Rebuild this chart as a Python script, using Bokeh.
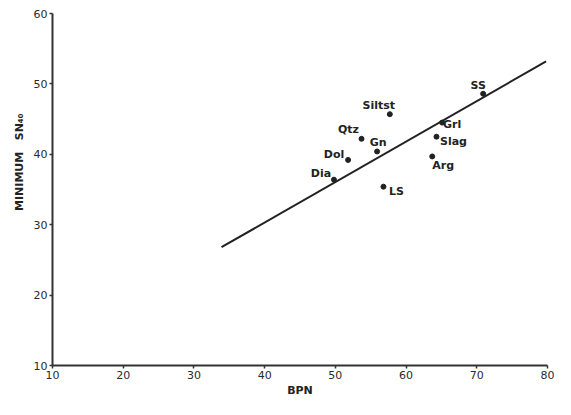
from bokeh.plotting import figure
from bokeh.models import ColumnDataSource, FixedTicker, Range1d, Title
from bokeh.core.properties import value
from bokeh.embed import file_html
from bokeh.resources import INLINE

# ---- data ----
rock_names = ["SS", "Siltst", "Qtz", "Gn", "Dol", "Dia", "LS", "Grl", "Slag", "Arg"]
bpn = [70.9, 57.7, 53.7, 55.9, 51.8, 49.8, 56.8, 65.1, 64.3, 63.7]
min_sn40 = [48.6, 45.7, 42.2, 40.4, 39.2, 36.4, 35.4, 44.5, 42.5, 39.7]

fit_bpn = [33.9, 79.8]
fit_sn40 = [26.8, 53.2]

x_ticks = [10, 20, 30, 40, 50, 60, 70, 80]
y_ticks = [10, 20, 30, 40, 50, 60]

# label placement (screen-pixel offsets from each point), styling only
label_dx = [-5, -11, -13, 1, -14, -13, 13, 10, 17, 11]
label_dy = [-8, -9, -9, -9, -5, -6, 5, 2, 5, 9]

INK = "#222222"
FONT = "DejaVu Sans"

p = figure(width=555, height=399, output_backend="svg", toolbar_location=None,
           x_range=Range1d(10, 80), y_range=Range1d(10, 60),
           min_border_left=52, min_border_right=8, min_border_top=13,
           min_border_bottom=34)
p.outline_line_color = None
p.xgrid.visible = False
p.ygrid.visible = False
p.background_fill_color = "white"
p.border_fill_color = "white"

for ax in (p.xaxis[0], p.yaxis[0]):
    ax.axis_line_color = "#333333"
    ax.axis_line_width = 2
    ax.major_tick_line_color = "#333333"
    ax.major_tick_line_width = 1.5
    ax.major_tick_out = 3
    ax.major_tick_in = 0
    ax.minor_tick_line_color = None
    ax.major_label_text_font = FONT
    ax.major_label_text_font_size = "11px"
    ax.major_label_text_color = "#2a2a2a"
    ax.major_label_standoff = 2

p.xaxis.ticker = FixedTicker(ticks=x_ticks)
p.yaxis.ticker = FixedTicker(ticks=y_ticks)
p.xaxis.axis_label = "BPN"
p.xaxis.axis_label_text_font = FONT
p.xaxis.axis_label_text_font_style = "bold"
p.xaxis.axis_label_text_font_size = "11px"
p.xaxis.axis_label_text_color = INK
p.xaxis.axis_label_standoff = 2

ytitle = Title(text="MINIMUM\u00a0\u00a0\u00a0SN₄₀", align="right", offset=100,
               text_font=FONT, text_font_style="bold", text_font_size="11px",
               text_color=INK, standoff=9)
p.add_layout(ytitle, "left")

# regression line
p.line(fit_bpn, fit_sn40, line_color=INK, line_width=2)

src = ColumnDataSource(dict(x=bpn, y=min_sn40, name=rock_names,
                            dx=label_dx, dy=label_dy))
p.scatter("x", "y", source=src, size=5, color=INK)
p.text("x", "y", text="name", source=src, x_offset="dx", y_offset="dy",
       text_align="center", text_baseline="middle",
       text_font=value(FONT), text_font_style="bold", text_font_size="11px",
       text_color=INK)

open("out.html", "w").write(file_html(p, INLINE))
